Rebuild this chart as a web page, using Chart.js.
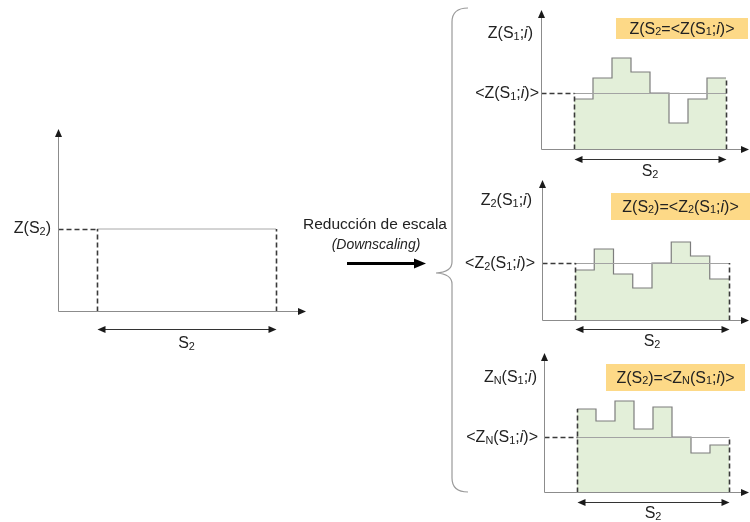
<!DOCTYPE html>
<html><head><meta charset="utf-8">
<script src="https://cdn.jsdelivr.net/npm/chart.js@4/dist/chart.umd.min.js"></script>
<style>
html,body{margin:0;padding:0;background:#fff;}
#wrap{position:relative;width:750px;height:522px;overflow:hidden;font-family:"Liberation Sans",Arial,sans-serif;color:#222;}
canvas{position:absolute;left:0;top:0;}
.t{position:absolute;white-space:nowrap;font-size:16px;line-height:1;}
.s{font-size:0.68em;position:relative;top:0.14em;}
.box{position:absolute;background:#fdd987;}
</style></head><body><div id="wrap"></div>
<script>
// ---------------- data ----------------
const coarseValue = 82;                       // Z(S2) on the left panel
const z1Values = [50, 71, 91, 77, 56, 26, 50, 71];
const z1Mean = 56;
const z2Values = [50, 71, 46, 32, 57, 78, 64, 41];
const z2Mean = 57;
const zNValues = [83, 71, 91, 63, 85, 55, 39, 47];
const zNMean = 55;

// ---------------- texts ----------------
const sub = s => '<span class="s">' + s + '</span>';
const leftMeanLabel = 'Z(S' + sub('2') + ')';
const spanLabel = 'S' + sub('2');
const titleMain = 'Reducción de escala';
const titleSub = '(Downscaling)';
const yTitles = [
  'Z(S' + sub('1') + ';<i>i</i>)',
  'Z' + sub('2') + '(S' + sub('1') + ';<i>i</i>)',
  'Z' + sub('N') + '(S' + sub('1') + ';<i>i</i>)'
];
const meanLabels = [
  '&lt;Z(S' + sub('1') + ';<i>i</i>)&gt;',
  '&lt;Z' + sub('2') + '(S' + sub('1') + ';<i>i</i>)&gt;',
  '&lt;Z' + sub('N') + '(S' + sub('1') + ';<i>i</i>)&gt;'
];
const boxLabels = [
  'Z(S' + sub('2') + '=&lt;Z(S' + sub('1') + ';<i>i</i>)&gt;',
  'Z(S' + sub('2') + ')=&lt;Z' + sub('2') + '(S' + sub('1') + ';<i>i</i>)&gt;',
  'Z(S' + sub('2') + ')=&lt;Z' + sub('N') + '(S' + sub('1') + ';<i>i</i>)&gt;'
];

// ---------------- layout (positions only) ----------------
const W = 750, H = 522;
const leftLayout = {ox:58, oy:311, top:129, right:306, x0:97, x1:276, gap:18, labGap:14};
const rightLayouts = [
  {ox:541, oy:149, top:10,  right:749, x0:574, x1:726, gap:10, labGap:12, titleY:33,  titleR:533, meanR:539, box:[616,18,132,21]},
  {ox:542, oy:320, top:180, right:749, x0:575, x1:729, gap:9,  labGap:12, titleY:200, titleR:532, meanR:535, box:[611,193,139,27]},
  {ox:544, oy:492, top:353, right:749, x0:577, x1:729, gap:10, labGap:11, titleY:377, titleR:537, meanR:538, box:[606,364,139,27]}
];

const wrap = document.getElementById('wrap');

function text(html, x, y, align, extra) {
  const d = document.createElement('div');
  d.className = 't';
  d.innerHTML = html;
  d.style.top = y + 'px';
  if (align === 'right') { d.style.right = (W - x) + 'px'; d.style.transform = 'translateY(-50%)'; }
  else { d.style.left = x + 'px'; d.style.transform = 'translate(-50%,-50%)'; }
  if (extra) Object.assign(d.style, extra);
  wrap.appendChild(d);
  return d;
}

function tri(ctx, x, y, dir, len, half) {
  ctx.beginPath();
  if (dir === 'up')    { ctx.moveTo(x, y); ctx.lineTo(x - half, y + len); ctx.lineTo(x + half, y + len); }
  if (dir === 'right') { ctx.moveTo(x, y); ctx.lineTo(x - len, y - half); ctx.lineTo(x - len, y + half); }
  if (dir === 'left')  { ctx.moveTo(x, y); ctx.lineTo(x + len, y - half); ctx.lineTo(x + len, y + half); }
  ctx.closePath(); ctx.fill();
}
function seg(ctx, x1, y1, x2, y2) { ctx.beginPath(); ctx.moveTo(x1, y1); ctx.lineTo(x2, y2); ctx.stroke(); }

function decor(n, values, mean, withMeanLine, extraDraw) {
  return {
    id: 'decor',
    afterDatasetsDraw(chart) {
      const {ctx, chartArea: a, scales: {x, y}} = chart;
      const X0 = Math.round(x.getPixelForValue(0)) + 0.5;
      const X1 = Math.round(x.getPixelForValue(n)) + 0.5;
      const Y0 = Math.round(y.getPixelForValue(0)) + 0.5;
      const YM = Math.round(y.getPixelForValue(mean)) + 0.5;
      const L = Math.round(a.left) + 0.5;
      ctx.save();
      // mean line across the span
      if (withMeanLine) { ctx.strokeStyle = '#a3a3a3'; ctx.lineWidth = 1; seg(ctx, X0, YM, X1, YM); }
      // dashed guides
      ctx.strokeStyle = '#3a3a3a'; ctx.lineWidth = 1.6; ctx.setLineDash([5, 3]);
      seg(ctx, L, YM, X0, YM);
      const yl = y.getPixelForValue(Math.max(mean, values[0]));
      const yr = y.getPixelForValue(Math.max(mean, values[values.length - 1]));
      seg(ctx, X0, Y0, X0, yl);
      seg(ctx, X1, Y0, X1, yr);
      ctx.setLineDash([]);
      // axes
      ctx.strokeStyle = '#8c8c8c'; ctx.lineWidth = 1;
      seg(ctx, L, Y0, L, a.top + 4);
      seg(ctx, L, Y0, a.right - 4, Y0);
      ctx.fillStyle = '#1a1a1a';
      tri(ctx, L, a.top, 'up', 8, 3.5);
      tri(ctx, a.right, Y0, 'right', 8, 3.5);
      // span double arrow
      const ya = Y0 + chart.options.spanGap;
      ctx.strokeStyle = '#333'; ctx.lineWidth = 1;
      seg(ctx, X0 + 4, ya, X1 - 4, ya);
      tri(ctx, X0, ya, 'left', 8, 3.5);
      tri(ctx, X1, ya, 'right', 8, 3.5);
      ctx.restore();
      if (extraDraw) extraDraw(ctx);
    }
  };
}

function makeChart(p, n, datasets, values, mean, withMeanLine, extraDraw) {
  const cv = document.createElement('canvas');
  cv.width = W; cv.height = H;
  cv.style.width = W + 'px'; cv.style.height = H + 'px';
  wrap.appendChild(cv);
  const cw = (p.x1 - p.x0) / n;
  const ch = new Chart(cv, {
    type: 'line',
    data: {datasets},
    options: {
      responsive: false, animation: false, events: [],
      spanGap: p.gap,
      layout: {padding: {left: p.ox, top: p.top, right: W - p.right, bottom: H - p.oy}},
      plugins: {legend: {display: false}, tooltip: {enabled: false}},
      scales: {
        x: {type: 'linear', display: false, min: -(p.x0 - p.ox) / cw, max: (p.right - p.x0) / cw},
        y: {type: 'linear', display: false, min: 0, max: p.oy - p.top}
      }
    },
    plugins: [decor(n, values, mean, withMeanLine, extraDraw)]
  });
  return ch;
}

function drawBraceAndArrow(ctx) {
  ctx.save();
  ctx.strokeStyle = '#9a9a9a'; ctx.lineWidth = 1.2;
  ctx.beginPath();
  ctx.moveTo(468, 8);
  ctx.quadraticCurveTo(452, 8, 452, 22);
  ctx.lineTo(452, 262);
  ctx.quadraticCurveTo(452, 272, 436, 273);
  ctx.quadraticCurveTo(452, 274, 452, 284);
  ctx.lineTo(452, 478);
  ctx.quadraticCurveTo(452, 492, 468, 492);
  ctx.stroke();
  // downscaling arrow
  ctx.strokeStyle = '#000'; ctx.fillStyle = '#000'; ctx.lineWidth = 3;
  seg(ctx, 347, 263.5, 416, 263.5);
  tri(ctx, 426, 263.5, 'right', 12, 5);
  ctx.restore();
}

// ---------- left panel ----------
const leftChart = makeChart(leftLayout, 1, [{
  data: [{x: 0, y: coarseValue}, {x: 1, y: coarseValue}],
  borderColor: '#a8a8a8', borderWidth: 1, pointRadius: 0, fill: false
}], [coarseValue], coarseValue, false, drawBraceAndArrow);
{
  const ym = leftChart.scales.y.getPixelForValue(coarseValue);
  text(leftMeanLabel, leftLayout.ox - 7, ym - 1, 'right');
  const xc = (leftChart.scales.x.getPixelForValue(0) + leftChart.scales.x.getPixelForValue(1)) / 2;
  text(spanLabel, xc, leftLayout.oy + leftLayout.gap + leftLayout.labGap, 'center');
}
text(titleMain, 375, 224, 'center', {fontSize: '15.5px'});
text(titleSub, 376, 244, 'center', {fontSize: '14px', fontStyle: 'italic'});

// ---------- right panels ----------
const seriesList = [z1Values, z2Values, zNValues];
const meanList = [z1Mean, z2Mean, zNMean];
seriesList.forEach((vals, k) => {
  const p = rightLayouts[k];
  const n = vals.length;
  const pts = vals.map((v, i) => ({x: i, y: v})).concat([{x: n, y: vals[n - 1]}]);
  const b = p.box;
  const bx = document.createElement('div');
  bx.className = 'box';
  Object.assign(bx.style, {left: b[0] + 'px', top: b[1] + 'px', width: b[2] + 'px', height: b[3] + 'px'});
  wrap.appendChild(bx);
  const ch = makeChart(p, n, [{
    data: pts, stepped: true, fill: 'origin',
    backgroundColor: '#e3efd9', borderColor: '#7d7d7d', borderWidth: 1.2, pointRadius: 0
  }], vals, meanList[k], true, null);
  const ym = ch.scales.y.getPixelForValue(meanList[k]);
  text(meanLabels[k], p.meanR, ym, 'right');
  text(yTitles[k], p.titleR, p.titleY, 'right');
  text(boxLabels[k], b[0] + b[2] / 2, b[1] + b[3] / 2, 'center');
  const xc = (ch.scales.x.getPixelForValue(0) + ch.scales.x.getPixelForValue(n)) / 2;
  text(spanLabel, xc, p.oy + p.gap + p.labGap, 'center');
});
</script>
</body></html>
